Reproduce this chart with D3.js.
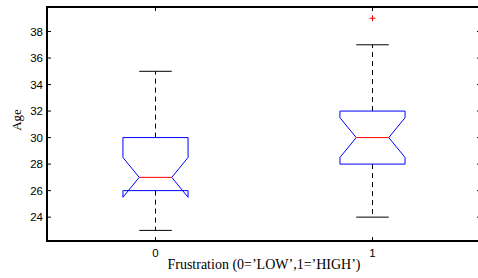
<!DOCTYPE html>
<html>
<head>
<meta charset="utf-8">
<script src="https://cdn.jsdelivr.net/npm/d3@7"></script>
<style>
  body { margin: 0; background: #fff; }
</style>
</head>
<body>
<div id="vis"></div>
<script>
// data
const groups = [0, 1];
const q1 = [26, 28];
const q3 = [30, 32];
const medians = [27, 30];
const notchLo = [25.5, 28.5];
const notchHi = [28.5, 31.5];
const whiskerLo = [23, 24];
const whiskerHi = [35, 37];
const outliers = [[], [39]];
const yTicks = [24, 26, 28, 30, 32, 34, 36, 38];

const W = 478, H = 278;
const margin = { top: 7, right: -3, bottom: 37, left: 47 };
const width = W - margin.left - margin.right;
const height = H - margin.top - margin.bottom;

const svg = d3.select("#vis")
  .append("svg")
  .attr("width", W)
  .attr("height", H);

const chart = svg.append("g")
  .attr("transform", `translate(${margin.left}, ${margin.top})`);

const x = d3.scaleLinear()
  .domain([-0.5, 1.5])
  .range([0, width]);

const y = d3.scaleLinear()
  .domain([22.2, 39.85])
  .range([height, 0]);

const boxW = 0.15;   // half width in x units
const tickLen = 4;

// boxes
groups.forEach((g, i) => {
  const cx = x(g);
  const hw = x(g + boxW) - cx;

  // whiskers (dashed)
  chart.append("line")
    .attr("x1", cx).attr("x2", cx)
    .attr("y1", y(q3[i])).attr("y2", y(whiskerHi[i]))
    .attr("stroke", "#000")
    .attr("stroke-dasharray", "5,4");
  chart.append("line")
    .attr("x1", cx).attr("x2", cx)
    .attr("y1", y(q1[i])).attr("y2", y(whiskerLo[i]))
    .attr("stroke", "#000")
    .attr("stroke-dasharray", "5,4");

  // caps
  [whiskerHi[i], whiskerLo[i]].forEach(v => {
    chart.append("line")
      .attr("x1", cx - hw / 2).attr("x2", cx + hw / 2)
      .attr("y1", y(v)).attr("y2", y(v))
      .attr("stroke", "#000");
  });

  // notched box
  const pts = [
    [cx - hw, y(q1[i])],
    [cx - hw, y(notchLo[i])],
    [cx - hw / 2, y(medians[i])],
    [cx - hw, y(notchHi[i])],
    [cx - hw, y(q3[i])],
    [cx + hw, y(q3[i])],
    [cx + hw, y(notchHi[i])],
    [cx + hw / 2, y(medians[i])],
    [cx + hw, y(notchLo[i])],
    [cx + hw, y(q1[i])]
  ];
  chart.append("path")
    .attr("d", d3.line()(pts) + "Z")
    .attr("fill", "none")
    .attr("stroke", "#0000ff");

  // median
  chart.append("line")
    .attr("x1", cx - hw / 2).attr("x2", cx + hw / 2)
    .attr("y1", y(medians[i])).attr("y2", y(medians[i]))
    .attr("stroke", "#ff0000");

  // outliers
  outliers[i].forEach(v => {
    chart.append("path")
      .attr("d", `M${cx - 3},${y(v)}H${cx + 3}M${cx},${y(v) - 3}V${y(v) + 3}`)
      .attr("stroke", "#ff0000");
  });
});

// frame
chart.append("rect")
  .attr("width", width)
  .attr("height", height)
  .attr("fill", "none")
  .attr("stroke", "#000")
  .attr("stroke-width", 2);

// y ticks (inward on both sides)
yTicks.forEach(t => {
  chart.append("line")
    .attr("x1", 0).attr("x2", tickLen)
    .attr("y1", y(t)).attr("y2", y(t))
    .attr("stroke", "#000");
  chart.append("line")
    .attr("x1", width).attr("x2", width - tickLen)
    .attr("y1", y(t)).attr("y2", y(t))
    .attr("stroke", "#000");
  chart.append("text")
    .attr("x", -4)
    .attr("y", y(t))
    .attr("dy", "0.35em")
    .attr("text-anchor", "end")
    .attr("font-family", "Liberation Sans, Arial, sans-serif")
    .attr("font-size", "11.5px")
    .text(t);
});

// x ticks
groups.forEach(g => {
  chart.append("line")
    .attr("x1", x(g)).attr("x2", x(g))
    .attr("y1", height).attr("y2", height - tickLen)
    .attr("stroke", "#000");
  chart.append("line")
    .attr("x1", x(g)).attr("x2", x(g))
    .attr("y1", 0).attr("y2", tickLen)
    .attr("stroke", "#000");
  chart.append("text")
    .attr("x", x(g))
    .attr("y", height + 16)
    .attr("text-anchor", "middle")
    .attr("font-family", "Liberation Sans, Arial, sans-serif")
    .attr("font-size", "11.5px")
    .text(g);
});

// axis labels
svg.append("text")
  .attr("x", (47 + 481) / 2)
  .attr("y", 269)
  .attr("text-anchor", "middle")
  .attr("font-family", "Liberation Serif, Times New Roman, serif")
  .attr("font-size", "14px")
  .text("Frustration (0=\u2019LOW\u2019,1=\u2019HIGH\u2019)");

svg.append("text")
  .attr("transform", "rotate(-90)")
  .attr("x", -120)
  .attr("y", 21)
  .attr("text-anchor", "middle")
  .attr("font-family", "Liberation Serif, Times New Roman, serif")
  .attr("font-size", "13px")
  .text("Age");
</script>
</body>
</html>
